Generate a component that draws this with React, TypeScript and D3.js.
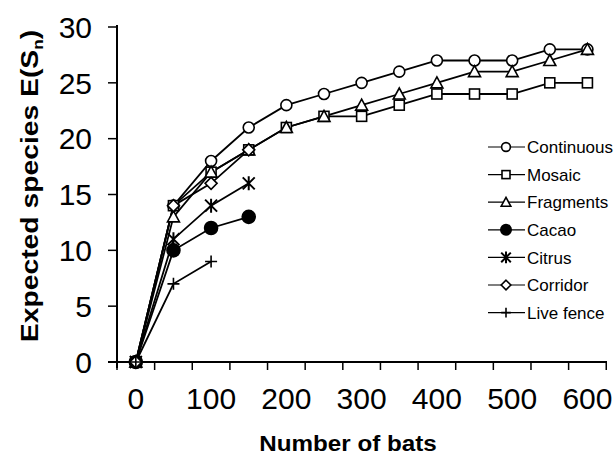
import React from 'react';
import * as d3 from 'd3';

// rarefaction curves
const bats = [0, 50, 100, 150, 200, 250, 300, 350, 400, 450, 500, 550, 600];
const continuous = [0, 14, 18, 21, 23, 24, 25, 26, 27, 27, 27, 28, 28];
const mosaic = [0, 14, 17, 19, 21, 22, 22, 23, 24, 24, 24, 25, 25];
const fragments = [0, 13, 17, 19, 21, 22, 23, 24, 25, 26, 26, 27, 28];
const cacao = [0, 10, 12, 13];
const citrus = [0, 11, 14, 16];
const corridor = [0, 14, 16, 19];
const liveFence = [0, 7, 9];

const xLabels = [0, 100, 200, 300, 400, 500, 600];
const xTicks = [-25, 25, 75, 125, 175, 225, 275, 325, 375, 425, 475, 525, 575, 625];
const yTicks = [0, 5, 10, 15, 20, 25, 30];

const series = [
    { name: 'Continuous', values: continuous, marker: 'circle' },
    { name: 'Mosaic', values: mosaic, marker: 'square' },
    { name: 'Fragments', values: fragments, marker: 'triangle' },
    { name: 'Cacao', values: cacao, marker: 'dot' },
    { name: 'Citrus', values: citrus, marker: 'star' },
    { name: 'Corridor', values: corridor, marker: 'diamond' },
    { name: 'Live fence', values: liveFence, marker: 'plus' }
];

const FONT = '"Liberation Sans", Arial, sans-serif';

function Marker({ type, x, y, k = 1 }: { type: string; x: number; y: number; k?: number }) {
    const s = { stroke: '#000', strokeWidth: 1.6 };
    const a = 6 * k;
    switch (type) {
        case 'circle':
            return <circle cx={x} cy={y} r={5.5 * k} fill="#fff" {...s} />;
        case 'square':
            return <rect x={x - 5 * k} y={y - 5 * k} width={10 * k} height={10 * k} fill="#fff" {...s} />;
        case 'triangle':
            return <path d={`M${x},${y - a}L${x + a},${y + 5 * k}L${x - a},${y + 5 * k}Z`} fill="#fff" {...s} />;
        case 'dot':
            return <circle cx={x} cy={y} r={6.5 * k} fill="#000" {...s} />;
        case 'star':
            return (
                <path
                    d={`M${x - a},${y - a}L${x + a},${y + a}M${x - a},${y + a}L${x + a},${y - a}M${x},${y - a - 1}L${x},${y + a + 1}`}
                    fill="none"
                    stroke="#000"
                    strokeWidth={2}
                />
            );
        case 'diamond':
            return <path d={`M${x},${y - a}L${x + a},${y}L${x},${y + a}L${x - a},${y}Z`} fill="#fff" {...s} />;
        case 'plus':
            return <path d={`M${x - a},${y}L${x + a},${y}M${x},${y - a}L${x},${y + a}`} fill="none" stroke="#000" strokeWidth={1.6} />;
        default:
            return null;
    }
}

export default function App() {
    const x = d3.scaleLinear().domain([-25, 626]).range([117, 607]);
    const y = d3.scaleLinear().domain([0, 30]).range([362, 27]);

    const line = d3
        .line<number>()
        .x((_, i) => x(bats[i]))
        .y(d => y(d));

    const legendX = 488;
    const legendY = 147;
    const legendStep = 27.6;

    return (
        <svg
            width={614}
            height={462}
            style={{ position: 'absolute', left: 0, top: 0, background: '#fff' }}
            fontFamily={FONT}
        >
            <rect width={614} height={462} fill="#fff" />

            {/* axes */}
            <line x1={117} x2={117} y1={25} y2={368} stroke="#000" strokeWidth={2} />
            <line x1={108} x2={x(626)} y1={y(0)} y2={y(0)} stroke="#000" strokeWidth={2} />
            {yTicks.map(t => (
                <g key={'y' + t}>
                    <line x1={108} x2={117} y1={y(t)} y2={y(t)} stroke="#000" strokeWidth={1.5} />
                    <text x={92} y={y(t)} dy="0.36em" textAnchor="end" fontSize={30}>
                        {t}
                    </text>
                </g>
            ))}
            {xTicks.map(t => (
                <line key={'xt' + t} x1={x(t)} x2={x(t)} y1={y(0)} y2={y(0) + 8} stroke="#000" strokeWidth={1.5} />
            ))}
            {xLabels.map(t => (
                <text key={'xl' + t} x={x(t)} y={409} textAnchor="middle" fontSize={30}>
                    {t}
                </text>
            ))}

            {/* axis titles */}
            <text
                transform="translate(348,451) scale(1.1,1)"
                textAnchor="middle"
                fontSize={22}
                fontWeight="bold"
            >
                Number of bats
            </text>
            <text
                transform="translate(38,186) rotate(-90) scale(1.23,1)"
                textAnchor="middle"
                fontSize={23}
                fontWeight="bold"
            >
                Expected species E(S
                <tspan fontSize={14} dy={5}>n</tspan>
                <tspan dy={-5}>)</tspan>
            </text>

            {/* curves */}
            {series.map(s => (
                <path key={s.name} d={line(s.values) || ''} fill="none" stroke="#000" strokeWidth={1.8} />
            ))}
            {series.map(s =>
                s.values.map((v, i) => <Marker key={s.name + i} type={s.marker} x={x(bats[i])} y={y(v)} />)
            )}

            {/* legend */}
            {series.map((s, i) => {
                const ly = legendY + i * legendStep;
                return (
                    <g key={'lg' + s.name}>
                        <line x1={legendX} x2={legendX + 37} y1={ly} y2={ly} stroke="#000" strokeWidth={1.2} />
                        <Marker type={s.marker} x={legendX + 18} y={ly} k={0.8} />
                        <text x={legendX + 39} y={ly} dy="0.36em" fontSize={17}>
                            {s.name}
                        </text>
                    </g>
                );
            })}
        </svg>
    );
}
